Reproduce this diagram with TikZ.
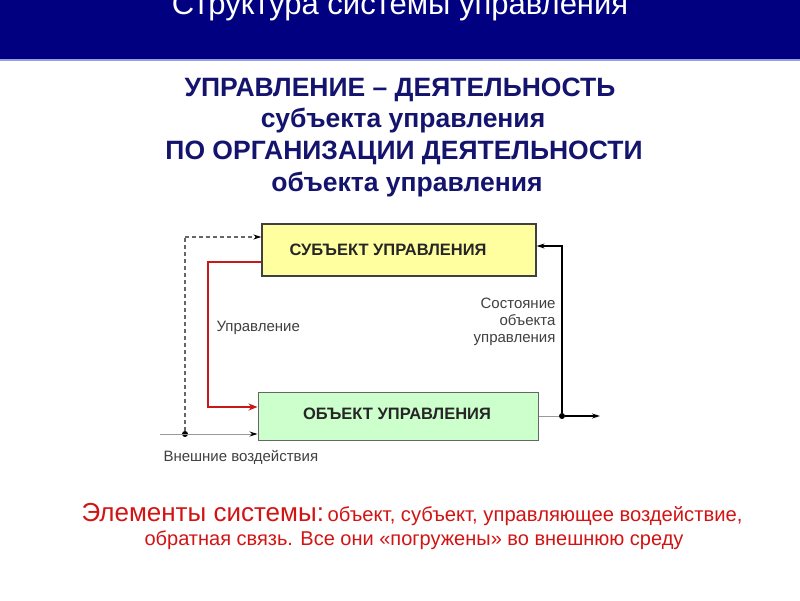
\documentclass[tikz,border=0pt]{standalone}
\usepackage{fontspec}
\setmainfont{Liberation Sans}
\usetikzlibrary{arrows.meta}
\definecolor{band}{RGB}{0,0,128}
\definecolor{bandline}{RGB}{150,160,220}
\definecolor{headtxt}{RGB}{20,20,110}
\definecolor{boxyellow}{RGB}{255,255,160}
\definecolor{boxgreen}{RGB}{204,255,204}
\definecolor{ctrlred}{RGB}{200,25,25}
\definecolor{noteRed}{RGB}{210,20,20}
\tikzset{
  box/.style={draw=black!75, line width=1.2pt, inner sep=0pt},
  boxtext/.style={font=\bfseries\fontsize{16.5}{20}\selectfont, text=black!85},
  headline/.style={font=\bfseries\fontsize{26.5}{31}\selectfont, text=headtxt, anchor=base},
  lbl/.style={font=\fontsize{15}{17}\selectfont, text=black!75},
  tip/.style={-{Stealth[length=8pt,width=5pt,color=black]}},
  junction/.style={circle, fill=black, inner sep=0pt, minimum size=6pt},
}
\begin{document}
\begin{tikzpicture}[x=1pt,y=-1pt]
\useasboundingbox (0,0) rectangle (800,600);
\fill[white] (0,0) rectangle (800,600);
% header band
\fill[band] (0,0) rectangle (800,59);
\fill[bandline] (0,59) rectangle (800,61);
\node[anchor=base, text=white, font=\fontsize{31}{36}\selectfont] (title) at (400,14) {Структура системы управления};
% headline
\node[headline] (h1) at (400,96) {УПРАВЛЕНИЕ – ДЕЯТЕЛЬНОСТЬ};
\node[headline] (h2) at (403,127) {субъекта управления};
\node[headline] (h3) at (404,159) {ПО ОРГАНИЗАЦИИ ДЕЯТЕЛЬНОСТИ};
\node[headline] (h4) at (407,191) {объекта управления};
% boxes
\node[box, fill=boxyellow, minimum width=274pt, minimum height=52pt] (subj) at (399,250) {};
\node[boxtext] (subjt) at (388,250) {СУБЪЕКТ УПРАВЛЕНИЯ};
\node[box, fill=boxgreen, draw=black!60, line width=1pt, minimum width=280pt, minimum height=48pt] (obj) at (398,416) {};
\node[boxtext] (objt) at (397,414) {ОБЪЕКТ УПРАВЛЕНИЯ};
% external influences
\coordinate (ext) at (160,434);
\node[junction] (dot) at (185,434) {};
\coordinate (dtop) at (185,237);
\draw[gray!80, line width=0.8pt, tip] (ext) -- (obj.west |- ext);
\draw[black!60, line width=1.3pt, dash pattern=on 4pt off 3pt] (dot) -- (dtop);
\draw[black!60, line width=1.3pt, dash pattern=on 4pt off 3pt, tip] (dtop) -- (subj.west |- dtop);
% control (red)
\coordinate (r1) at (208,262);
\coordinate (r2) at (208,407);
\draw[ctrlred, line width=2pt, -{Stealth[length=9pt,width=7pt]}] (subj.west |- r1) -- (r1) -- (r2) -- (obj.west |- r2);
% feedback
\node[junction] (fb) at (562,416) {};
\coordinate (fbtop) at (562,246);
\coordinate (out) at (600,416);
\draw[gray!80, line width=0.8pt] (obj.east |- fb) -- (fb);
\draw[black, line width=1.2pt, tip] (fb) -- (out);
\draw[black, line width=1.2pt, tip] (fb) -- (fbtop) -- (subj.east |- fbtop);
% labels
\node[lbl, anchor=west] (lctrl) at (213,328) {Управление};
\node[lbl, anchor=east, align=right, font=\fontsize{15}{17}\selectfont] (lstate) at (559,322) {Состояние\\объекта\\управления};
\node[lbl, anchor=west] (lext) at (160,457) {Внешние воздействия};
% bottom note
\node[text=noteRed, anchor=base] (n1) at (412,521) {{\fontsize{26}{30}\selectfont Элементы системы:} {\fontsize{20.2}{24}\selectfont объект, субъект, управляющее воздействие,}};
\node[text=noteRed, anchor=base, font=\fontsize{20}{24}\selectfont] (n2) at (414,545) {обратная связь. Все они «погружены» во внешнюю среду};
\end{tikzpicture}
\end{document}
